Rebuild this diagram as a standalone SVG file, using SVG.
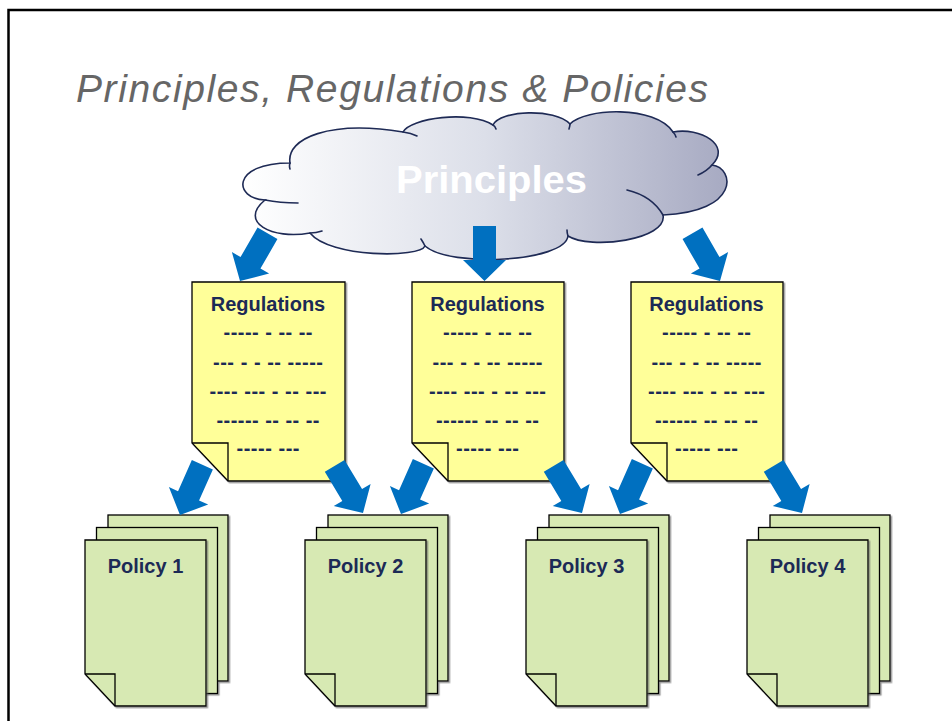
<svg xmlns="http://www.w3.org/2000/svg" width="952" height="721" viewBox="0 0 952 721">
  <defs>
    <linearGradient id="cloudGrad" x1="0" y1="0" x2="1" y2="0">
      <stop offset="0" stop-color="#ffffff"/>
      <stop offset="0.5" stop-color="#dcdfe9"/>
      <stop offset="1" stop-color="#a7aac2"/>
    </linearGradient>
    <filter id="shadow" x="-10%" y="-10%" width="130%" height="130%">
      <feDropShadow dx="1.5" dy="1.5" stdDeviation="0.6" flood-color="#555" flood-opacity="0.6"/>
    </filter>
    <path id="arrowShape" d="M -11.5,-55 L 11.5,-55 L 11.5,-21 L 21.5,-21 L 0,0 L -21.5,-21 L -11.5,-21 Z"/>
  </defs>
  <style>
    .frame { fill: none; stroke: #000; stroke-width: 2.5; }
    .title { font-family: "Liberation Sans", Arial, sans-serif; font-style: italic; font-size: 39px; fill: #666666; }
    .cloud { fill: url(#cloudGrad); stroke: #1e2a55; stroke-width: 1.6; }
    .hook { fill: none; stroke: #1e2a55; stroke-width: 1.6; stroke-linecap: round; }
    .cloudText { font-family: "Liberation Sans", Arial, sans-serif; font-weight: bold; font-size: 39px; fill: #ffffff; text-anchor: middle; }
    .reg { fill: #ffff99; stroke: #000; stroke-width: 1.3; stroke-linejoin: miter; }
    .pol { fill: #d7e9b3; stroke: #000; stroke-width: 1.3; }
    .gap { fill: #ffffff; stroke: none; }
    .fold { fill: none; stroke: #000; stroke-width: 1.3; }
    .label { font-family: "Liberation Sans", Arial, sans-serif; font-weight: bold; font-size: 20px; fill: #1c2a56; text-anchor: middle; }
    .arrow { fill: #0070c0; }
  </style>

  <rect x="0" y="0" width="952" height="721" fill="#ffffff"/>
  <path class="frame" d="M 8.5,721 V 10 H 952"/>

  <text class="title" x="76" y="101.5" textLength="632" lengthAdjust="spacing">Principles, Regulations &amp; Policies</text>

  <g id="principles">
    <path class="cloud" d="M 290,163 C 286,138 330,120 403,132 C 410,118 470,110 493,125 C 500,110 555,108 570,124 C 585,108 655,105 673,132 C 700,127 732,145 712,165 C 735,168 740,212 663,215 C 668,240 590,250 568,236 C 565,262 450,268 425,246 C 420,258 330,258 310,233 C 272,240 238,222 265,200 C 234,199 230,163 290,163 Z"/>
    <path class="hook" d="M 403,132 Q 411,133 417,136 M 493,125 Q 495,126 496,129 M 570,124 Q 570,126 569,129 M 673,132 Q 675,134 676,137 M 712,165 Q 707,171 698,175 M 663,215 Q 652,196 627,190 M 568,236 Q 567,233 567,230 M 425,246 Q 423,242 421,239 M 310,233 Q 316,233 322,231 M 265,200 Q 280,203 298,203 M 290,163 Q 289,166 290,169"/>
    <text class="cloudText" x="491.5" y="193" textLength="191" lengthAdjust="spacingAndGlyphs">Principles</text>
  </g>

  <g id="regulations1" filter="url(#shadow)">
    <path class="reg" d="M 192,282 H 345 V 481 H 228 L 192,443 Z"/>
    <path class="fold" d="M 192,443 H 228 V 481"/>
  </g>
  <g id="regulations1-text">
    <text class="label" x="268" y="310.5">Regulations</text>
    <text class="label" x="268" y="338.5" textLength="89" lengthAdjust="spacing">----- - -- --</text>
    <text class="label" x="268" y="368.5" textLength="110" lengthAdjust="spacing">--- - - -- -----</text>
    <text class="label" x="268" y="397.5" textLength="117" lengthAdjust="spacing">---- --- - -- ---</text>
    <text class="label" x="268" y="426.5" textLength="103" lengthAdjust="spacing">------ -- -- --</text>
    <text class="label" x="268" y="454.5" textLength="63" lengthAdjust="spacing">----- ---</text>
  </g>

  <g id="regulations2" filter="url(#shadow)">
    <path class="reg" d="M 412,282 H 564 V 481 H 448 L 412,443 Z"/>
    <path class="fold" d="M 412,443 H 448 V 481"/>
  </g>
  <g id="regulations2-text">
    <text class="label" x="487.5" y="310.5">Regulations</text>
    <text class="label" x="487.5" y="338.5" textLength="89" lengthAdjust="spacing">----- - -- --</text>
    <text class="label" x="487.5" y="368.5" textLength="110" lengthAdjust="spacing">--- - - -- -----</text>
    <text class="label" x="487.5" y="397.5" textLength="117" lengthAdjust="spacing">---- --- - -- ---</text>
    <text class="label" x="487.5" y="426.5" textLength="103" lengthAdjust="spacing">------ -- -- --</text>
    <text class="label" x="487.5" y="454.5" textLength="63" lengthAdjust="spacing">----- ---</text>
  </g>

  <g id="regulations3" filter="url(#shadow)">
    <path class="reg" d="M 631,282 H 783 V 481 H 667 L 631,443 Z"/>
    <path class="fold" d="M 631,443 H 667 V 481"/>
  </g>
  <g id="regulations3-text">
    <text class="label" x="706.5" y="310.5">Regulations</text>
    <text class="label" x="706.5" y="338.5" textLength="89" lengthAdjust="spacing">----- - -- --</text>
    <text class="label" x="706.5" y="368.5" textLength="110" lengthAdjust="spacing">--- - - -- -----</text>
    <text class="label" x="706.5" y="397.5" textLength="117" lengthAdjust="spacing">---- --- - -- ---</text>
    <text class="label" x="706.5" y="426.5" textLength="103" lengthAdjust="spacing">------ -- -- --</text>
    <text class="label" x="706.5" y="454.5" textLength="63" lengthAdjust="spacing">----- ---</text>
  </g>

  <g id="policy1">
    <g filter="url(#shadow)">
      <rect class="pol" x="108" y="515" width="120" height="166"/>
      <rect class="pol" x="96.5" y="527.5" width="121" height="166"/>
    </g>
    <path class="gap" d="M 84,673 L 116,707 H 84 Z"/>
    <g filter="url(#shadow)">
      <path class="pol" d="M 85,540 H 206 V 706 H 115 L 85,674 Z"/>
      <path class="fold" d="M 85,674 H 115 V 706"/>
    </g>
    <text class="label" x="145.5" y="573">Policy 1</text>
  </g>

  <g id="policy2">
    <g filter="url(#shadow)">
      <rect class="pol" x="328" y="515" width="120" height="166"/>
      <rect class="pol" x="316.5" y="527.5" width="121" height="166"/>
    </g>
    <path class="gap" d="M 304,673 L 336,707 H 304 Z"/>
    <g filter="url(#shadow)">
      <path class="pol" d="M 305,540 H 426 V 706 H 335 L 305,674 Z"/>
      <path class="fold" d="M 305,674 H 335 V 706"/>
    </g>
    <text class="label" x="365.5" y="573">Policy 2</text>
  </g>

  <g id="policy3">
    <g filter="url(#shadow)">
      <rect class="pol" x="549" y="515" width="120" height="166"/>
      <rect class="pol" x="537.5" y="527.5" width="121" height="166"/>
    </g>
    <path class="gap" d="M 525,673 L 557,707 H 525 Z"/>
    <g filter="url(#shadow)">
      <path class="pol" d="M 526,540 H 647 V 706 H 556 L 526,674 Z"/>
      <path class="fold" d="M 526,674 H 556 V 706"/>
    </g>
    <text class="label" x="586.5" y="573">Policy 3</text>
  </g>

  <g id="policy4">
    <g filter="url(#shadow)">
      <rect class="pol" x="770" y="515" width="120" height="166"/>
      <rect class="pol" x="758.5" y="527.5" width="121" height="166"/>
    </g>
    <path class="gap" d="M 746,673 L 778,707 H 746 Z"/>
    <g filter="url(#shadow)">
      <path class="pol" d="M 747,540 H 868 V 706 H 777 L 747,674 Z"/>
      <path class="fold" d="M 747,674 H 777 V 706"/>
    </g>
    <text class="label" x="807.5" y="573">Policy 4</text>
  </g>

  <g id="connectors" class="arrow">
    <use href="#arrowShape" transform="translate(240,281) rotate(30)"/>
    <use href="#arrowShape" transform="translate(484.5,281)"/>
    <use href="#arrowShape" transform="translate(720,281) rotate(-30)"/>
    <use href="#arrowShape" transform="translate(180,515) rotate(24)"/>
    <use href="#arrowShape" transform="translate(363,513) rotate(-31)"/>
    <use href="#arrowShape" transform="translate(401,514) rotate(24)"/>
    <use href="#arrowShape" transform="translate(582,513) rotate(-31)"/>
    <use href="#arrowShape" transform="translate(620,514) rotate(24)"/>
    <use href="#arrowShape" transform="translate(802,513) rotate(-31)"/>
  </g>
</svg>
